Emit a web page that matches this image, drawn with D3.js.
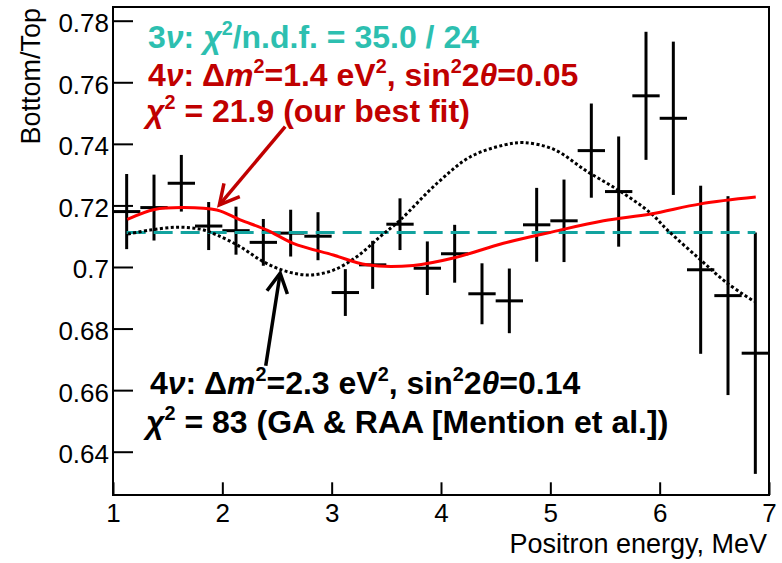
<!DOCTYPE html>
<html>
<head>
<meta charset="utf-8">
<script src="https://cdn.jsdelivr.net/npm/d3@7"></script>
<style>
  body { margin: 0; background: #fff; }
  svg { display: block; }
  text { font-family: "Liberation Sans", Arial, Helvetica, sans-serif; white-space: pre; }
</style>
</head>
<body>
<svg id="chart" width="782" height="563"></svg>
<script>
// Positron energy bin centres (MeV)
const energy = [1.125, 1.375, 1.625, 1.875, 2.125, 2.375, 2.625, 2.875,
                3.125, 3.375, 3.625, 3.875, 4.125, 4.375, 4.625, 4.875,
                5.125, 5.375, 5.625, 5.875, 6.125, 6.375, 6.625, 6.875];
// Measured Bottom/Top count ratio per bin
const ratio = [0.7180, 0.7193, 0.7272, 0.7133, 0.7118, 0.7080, 0.7110, 0.7100,
               0.6917, 0.7007, 0.7139, 0.6996, 0.7043, 0.6913, 0.6890, 0.7137,
               0.7150, 0.7378, 0.7245, 0.7556, 0.7483, 0.6991, 0.6907, 0.6720];
// Statistical uncertainty of the ratio
const ratioErr = [0.0122, 0.0107, 0.0092, 0.0078, 0.0078, 0.0076, 0.0076, 0.0078,
                  0.0076, 0.0078, 0.0084, 0.0087, 0.0094, 0.0099, 0.0105, 0.0120,
                  0.0134, 0.0153, 0.0179, 0.0208, 0.0249, 0.0273, 0.0323, 0.0392];
const binHalfWidth = 0.125;

// 3ν hypothesis: no oscillation, flat ratio
const flatE = [1.125, 6.875];
const flatR = [0.7112, 0.7112];

// 4ν best fit: Δm² = 1.4 eV², sin²2θ = 0.05
const bestFitE = [1.131, 1.380, 1.641, 1.950, 2.163, 2.408, 2.648, 3.015, 3.323,
                  3.747, 4.114, 4.571, 5.029, 5.487, 5.918, 6.374, 6.879];
const bestFitR = [0.7155, 0.7187, 0.7193, 0.7185, 0.7153, 0.7120, 0.7077, 0.7039, 0.7007,
                  0.7005, 0.7029, 0.7077, 0.7115, 0.7150, 0.7172, 0.7205, 0.7227];

// 4ν GA & RAA: Δm² = 2.3 eV², sin²2θ = 0.14
const gaRaaE = [1.137, 1.339, 1.583, 1.797, 1.950, 2.163, 2.376, 2.591, 2.804, 3.017,
                3.232, 3.445, 3.628, 3.964, 4.269, 4.574, 4.757, 5.032, 5.338, 5.643,
                5.918, 6.071, 6.374, 6.620, 6.864];
const gaRaaR = [0.7107, 0.7120, 0.7129, 0.7123, 0.7104, 0.7066, 0.7017, 0.6985, 0.6974, 0.6990,
                0.7034, 0.7099, 0.7153, 0.7272, 0.7358, 0.7396, 0.7404, 0.7382, 0.7310, 0.7245,
                0.7175, 0.7120, 0.7023, 0.6947, 0.6888];

const xTicks = [1, 2, 3, 4, 5, 6, 7];
const yTicks = [0.64, 0.66, 0.68, 0.70, 0.72, 0.74, 0.76, 0.78];
const xLabel = "Positron energy, MeV";
const yLabel = "Bottom/Top";

const svg = d3.select("#chart");
const pLeft = 113, pRight = 769, pTop = 7, pBottom = 495;
const x = d3.scaleLinear().domain([1, 7]).range([pLeft, pRight]);
const y = d3.scaleLinear().domain([0.62594, 0.78445]).range([pBottom, pTop]);

const tickFont = 26;

// minor ticks
const xMinor = d3.range(1, 7.0001, 0.2).filter(v => Math.abs(v - Math.round(v)) > 1e-6);
const yMinor = d3.range(0.63, 0.7801, 0.005).filter(v => Math.abs(v * 50 - Math.round(v * 50)) > 1e-6);

const gx = svg.append("g").attr("transform", `translate(0,${pBottom})`);
gx.call(d3.axisBottom(x).tickValues(xMinor).tickSize(-6).tickFormat(""));
gx.call(d3.axisBottom(x).tickValues(xTicks).tickSize(-12.7).tickPadding(8.5).tickFormat(d3.format("d")));
gx.selectAll(".domain").remove();

const gy = svg.append("g").attr("transform", `translate(${pLeft},0)`);
gy.call(d3.axisLeft(y).tickValues(yMinor).tickSize(-10).tickFormat(""));
gy.call(d3.axisLeft(y).tickValues(yTicks).tickSize(-20).tickPadding(4).tickFormat(d => String(+d.toFixed(2))));
gy.selectAll(".domain").remove();

svg.selectAll(".tick line").attr("stroke", "#000").attr("stroke-width", 2);
svg.selectAll(".tick text").attr("font-size", tickFont).attr("fill", "#000")
   .attr("font-family", '"Liberation Sans", Arial, sans-serif');
gy.selectAll(".tick text").attr("dy", "0.42em");

// frame
svg.append("rect").attr("x", pLeft).attr("y", pTop)
   .attr("width", pRight - pLeft).attr("height", pBottom - pTop)
   .attr("fill", "none").attr("stroke", "#000").attr("stroke-width", 2);

// axis titles
svg.append("text").attr("x", 767).attr("y", 553).attr("text-anchor", "end")
   .attr("font-size", 27).text(xLabel);
svg.append("text").attr("transform", "translate(40,8) rotate(-90)").attr("text-anchor", "end")
   .attr("font-size", 27).text(yLabel);

const plot = svg.append("g");

// data points with error bars
const pts = energy.map((e, i) => ({ e, r: ratio[i], s: ratioErr[i] }));
const pg = plot.append("g").attr("stroke", "#000").attr("stroke-width", 3);
pg.selectAll("line.v").data(pts).join("line").attr("class", "v")
  .attr("x1", d => x(d.e)).attr("x2", d => x(d.e))
  .attr("y1", d => y(d.r - d.s)).attr("y2", d => y(d.r + d.s));
pg.selectAll("line.h").data(pts).join("line").attr("class", "h")
  .attr("x1", d => x(d.e - binHalfWidth)).attr("x2", d => x(d.e + binHalfWidth))
  .attr("y1", d => y(d.r)).attr("y2", d => y(d.r));

const curve = d3.line().x(d => x(d[0])).y(d => y(d[1])).curve(d3.curveCatmullRom.alpha(0.5));

// 3ν flat line
plot.append("path").datum(flatE.map((e, i) => [e, flatR[i]]))
  .attr("d", curve).attr("fill", "none")
  .attr("stroke", "#12A39F").attr("stroke-width", 3).attr("stroke-dasharray", "19 8");

// GA & RAA curve (dotted)
plot.append("path").datum(gaRaaE.map((e, i) => [e, gaRaaR[i]]))
  .attr("d", curve).attr("fill", "none")
  .attr("stroke", "#000").attr("stroke-width", 3).attr("stroke-dasharray", "3 2.4");

// best-fit curve
plot.append("path").datum(bestFitE.map((e, i) => [e, bestFitR[i]]))
  .attr("d", curve).attr("fill", "none")
  .attr("stroke", "#FF0000").attr("stroke-width", 3);

// arrows pointing from the labels to their curves
function arrow(from, to, color) {
  const x0 = x(from[0]), y0 = y(from[1]), x1 = x(to[0]), y1 = y(to[1]);
  const ang = Math.atan2(y0 - y1, x0 - x1);
  const L = 22, a = 28 * Math.PI / 180;
  const g = svg.append("g").attr("stroke", color).attr("stroke-width", 3.5)
    .attr("fill", "none").attr("stroke-linecap", "butt");
  g.append("line").attr("x1", x0).attr("y1", y0).attr("x2", x1).attr("y2", y1);
  g.append("path").attr("stroke-linejoin", "miter")
    .attr("d", `M${x1 + L * Math.cos(ang + a)},${y1 + L * Math.sin(ang + a)}L${x1},${y1}L${x1 + L * Math.cos(ang - a)},${y1 + L * Math.sin(ang - a)}`);
}
arrow([2.575, 0.74558], [1.973, 0.72016], "#C00000");
arrow([2.397, 0.66789], [2.529, 0.69799], "#000");

// rich text with italics and superscripts
const annFont = 32;
function rich(px, py, segs, color) {
  const t = svg.append("text").attr("x", px).attr("y", py)
    .attr("font-size", annFont).attr("font-weight", "bold").attr("fill", color);
  let raised = false;
  segs.forEach(s => {
    const ts = t.append("tspan").text(s.t);
    if (s.i) ts.attr("font-style", "italic");
    if (s.sup) {
      ts.attr("font-size", annFont * 0.62).attr("dy", -annFont * 0.40);
      raised = true;
    } else if (raised) {
      ts.attr("dy", annFont * 0.40);
      raised = false;
    }
  });
}

rich(148, 48, [{ t: "3" }, { t: "ν", i: 1 }, { t: ": " }, { t: "χ", i: 1 }, { t: "2", sup: 1 },
               { t: "/n.d.f. = 35.0 / 24" }], "#2DBFB0");
rich(148, 86, [{ t: "4" }, { t: "ν", i: 1 }, { t: ": Δ" }, { t: "m", i: 1 }, { t: "2", sup: 1 },
               { t: "=1.4 eV" }, { t: "2", sup: 1 }, { t: ", sin" }, { t: "2", sup: 1 },
               { t: "2" }, { t: "θ", i: 1 }, { t: "=0.05" }], "#C00000");
rich(146, 122, [{ t: "χ", i: 1 }, { t: "2", sup: 1 }, { t: " = 21.9 (our best fit)" }], "#C00000");
rich(150, 394, [{ t: "4" }, { t: "ν", i: 1 }, { t: ": Δ" }, { t: "m", i: 1 }, { t: "2", sup: 1 },
                { t: "=2.3 eV" }, { t: "2", sup: 1 }, { t: ", sin" }, { t: "2", sup: 1 },
                { t: "2" }, { t: "θ", i: 1 }, { t: "=0.14" }], "#000");
rich(146, 433, [{ t: "χ", i: 1 }, { t: "2", sup: 1 }, { t: " = 83 (GA & RAA [Mention et al.])" }], "#000");
</script>
</body>
</html>
